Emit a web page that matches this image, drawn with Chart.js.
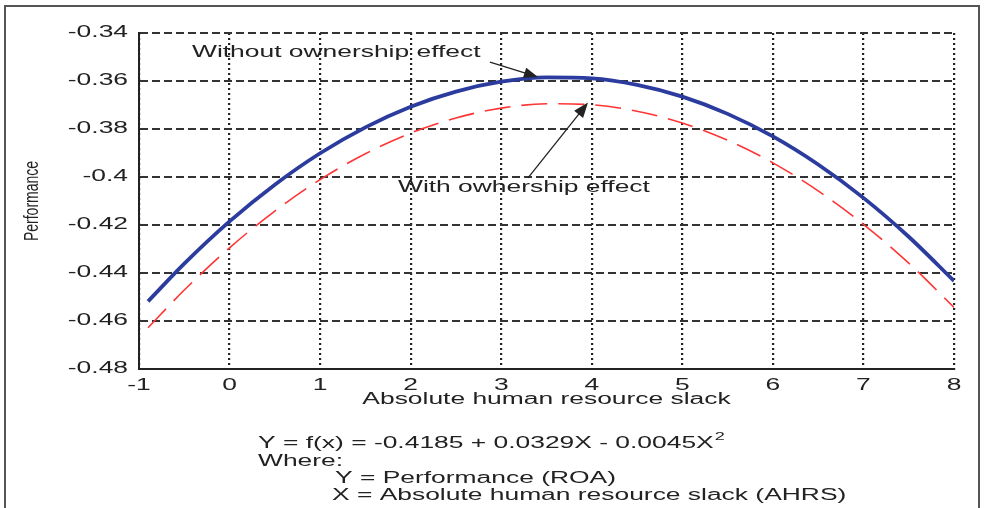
<!DOCTYPE html>
<html>
<head>
<meta charset="utf-8">
<script src="https://cdn.jsdelivr.net/npm/chart.js@4.4.1/dist/chart.umd.min.js"></script>
<style>
  html, body { margin: 0; padding: 0; background: #fff; }
  #wrap { position: relative; width: 987px; height: 508px; overflow: hidden; }
  #chart { display: block; }
  #frame { position: absolute; left: 4px; top: 5px; width: 972px; height: 540px; border: 2px solid #555; pointer-events: none; }
</style>
</head>
<body>
<div id="wrap">
  <canvas id="chart" width="987" height="508"></canvas>
  <div id="frame"></div>
</div>
<script>
// valores
const slackX = [-0.9, -0.5, 0, 0.5, 1, 1.5, 2, 2.5, 3, 3.5, 4, 4.5, 5, 5.5, 6, 6.5, 7, 7.5, 8];
const withoutOwnership = [-0.4518, -0.4361, -0.4185, -0.4032, -0.3901, -0.3793, -0.3707, -0.3644, -0.3603, -0.3585,
  -0.3589, -0.3616, -0.3665, -0.3737, -0.3831, -0.3948, -0.4087, -0.4249, -0.4433];
const withOwnership = [-0.4628, -0.4471, -0.4295, -0.4142, -0.4011, -0.3903, -0.3817, -0.3754, -0.3713, -0.3695,
  -0.3699, -0.3726, -0.3775, -0.3847, -0.3941, -0.4058, -0.4197, -0.4359, -0.4543];
const xTicks = [-1, 0, 1, 2, 3, 4, 5, 6, 7, 8];
const yTicks = [-0.48, -0.46, -0.44, -0.42, -0.4, -0.38, -0.36, -0.34];

const FONT = '"Liberation Sans", Arial, Helvetica, sans-serif';
const TEXT = '#222';
const STRETCH = 1.65; // la figura original esta estirada en horizontal

// texto estirado horizontalmente, como en la imagen original
function stretchText(ctx, text, px, py, size) {
  ctx.save();
  ctx.translate(px, py);
  ctx.scale(STRETCH, 1);
  ctx.font = size + 'px ' + FONT;
  ctx.textBaseline = 'middle';
  ctx.textAlign = 'left';
  ctx.fillText(text, 0, 0);
  const w = ctx.measureText(text).width * STRETCH;
  ctx.restore();
  return w;
}

function arrow(ctx, x1, y1, x2, y2, head) {
  const a = Math.atan2(y2 - y1, x2 - x1);
  const c = Math.cos(a), s = Math.sin(a);
  ctx.beginPath();
  ctx.moveTo(x1, y1);
  ctx.lineTo(x2 - c * head * 0.7, y2 - s * head * 0.7);
  ctx.stroke();
  ctx.beginPath();
  ctx.moveTo(x2, y2);
  ctx.lineTo(x2 - head * c + head * 0.38 * s, y2 - head * s - head * 0.38 * c);
  ctx.lineTo(x2 - head * c - head * 0.38 * s, y2 - head * s + head * 0.38 * c);
  ctx.closePath();
  ctx.fill();
}

// Chart.js coloca cada etiqueta con translate + rotate(0); ahi se estira el texto de los ejes
const stretchAxisText = {
  id: 'stretchAxisText',
  beforeDraw(chart) {
    const ctx = chart.ctx;
    const proto = CanvasRenderingContext2D.prototype;
    ctx.rotate = function (a) {
      proto.rotate.call(this, a);
      if (Math.abs(a) < 1e-9) proto.scale.call(this, STRETCH, 1);
    };
  },
  beforeDatasetsDraw(chart) {
    delete chart.ctx.rotate;
  }
};

const overlay = {
  id: 'overlay',
  afterDraw(chart) {
    const { ctx, scales: { x, y } } = chart;
    delete ctx.rotate;
    ctx.save();
    ctx.fillStyle = TEXT;
    ctx.strokeStyle = TEXT;
    ctx.lineWidth = 1.3;

    // etiquetas de las curvas
    stretchText(ctx, 'Without ownership effect', x.getPixelForValue(-0.415), y.getPixelForValue(-0.3483), 16);
    arrow(ctx, x.getPixelForValue(2.876), y.getPixelForValue(-0.3521),
      x.getPixelForValue(3.406), y.getPixelForValue(-0.3583), 14);
    stretchText(ctx, 'With owhership effect', x.getPixelForValue(1.86), y.getPixelForValue(-0.4046), 16);
    arrow(ctx, x.getPixelForValue(3.296), y.getPixelForValue(-0.4004),
      x.getPixelForValue(3.958), y.getPixelForValue(-0.3690), 15);

    // titulo del eje y
    ctx.save();
    ctx.translate(33, (y.top + y.bottom) / 2);
    ctx.rotate(-Math.PI / 2);
    ctx.scale(1, 1.4);
    ctx.font = '14px ' + FONT;
    ctx.textAlign = 'center';
    ctx.textBaseline = 'middle';
    ctx.fillText('Performance', 0, 0);
    ctx.restore();

    // formula al pie
    const w = stretchText(ctx, 'Y = f(x) = -0.4185 + 0.0329X - 0.0045X', 258, 444, 16);
    stretchText(ctx, '2', 258 + w + 1, 437, 11);
    stretchText(ctx, 'Where:', 258, 462, 16);
    stretchText(ctx, 'Y = Performance (ROA)', 335, 479, 16);
    stretchText(ctx, 'X = Absolute human resource slack (AHRS)', 332, 496, 16);
    ctx.restore();
  }
};

const ctx = document.getElementById('chart').getContext('2d');
new Chart(ctx, {
  type: 'line',
  data: {
    datasets: [{
      label: 'Without ownership effect',
      data: slackX.map((v, i) => ({ x: v, y: withoutOwnership[i] })),
      borderColor: '#2b3c9e',
      borderWidth: 3.8,
      pointRadius: 0,
      cubicInterpolationMode: 'monotone',
      fill: false
    }, {
      label: 'With ownership effect',
      data: slackX.map((v, i) => ({ x: v, y: withOwnership[i] })),
      borderColor: '#ff3434',
      borderWidth: 1.6,
      borderDash: [26, 11],
      pointRadius: 0,
      cubicInterpolationMode: 'monotone',
      fill: false
    }]
  },
  options: {
    responsive: false,
    animation: false,
    layout: { padding: { left: 0, right: 33, top: 33, bottom: 94 } },
    plugins: {
      legend: { display: false },
      tooltip: { enabled: false }
    },
    scales: {
      x: {
        type: 'linear',
        min: -1,
        max: 8,
        afterBuildTicks: s => { s.ticks = xTicks.map(v => ({ value: v })); },
        afterFit: s => { s.height = 45; },
        grid: { color: '#222', lineWidth: 2.2, drawTicks: false },
        border: { display: true, color: '#222', width: 2, dash: [2, 3] },
        ticks: {
          color: TEXT, padding: 7, autoSkip: false, maxRotation: 0,
          font: { family: FONT, size: 16 },
          callback: v => String(v)
        },
        title: {
          display: true, text: 'Absolute human resource slack', color: TEXT,
          font: { family: FONT, size: 16 }, padding: { top: 0, bottom: 4.4 }
        }
      },
      y: {
        min: -0.48,
        max: -0.34,
        afterBuildTicks: s => { s.ticks = yTicks.map(v => ({ value: v })); },
        afterFit: s => { s.width = 139; },
        grid: { color: '#333', lineWidth: 2, drawTicks: false },
        border: { display: true, color: '#222', width: 2, dash: [8, 4] },
        ticks: {
          color: TEXT, padding: 11,
          font: { family: FONT, size: 16 },
          callback: v => String(v)
        }
      }
    }
  },
  plugins: [stretchAxisText, overlay]
});
</script>
</body>
</html>
